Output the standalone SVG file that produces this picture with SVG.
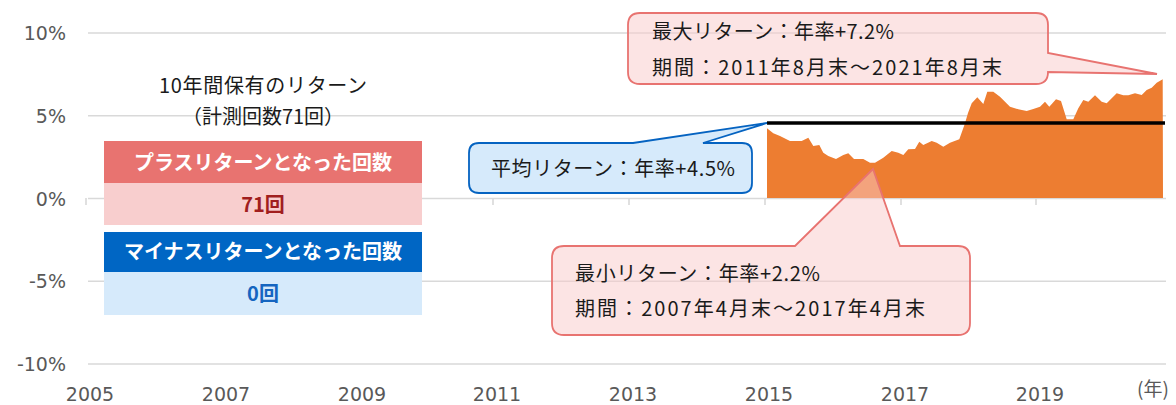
<svg xmlns="http://www.w3.org/2000/svg" width="1176" height="405" viewBox="0 0 1176 405">
<style>
.grid{stroke:#d9d9d9;stroke-width:1.6;fill:none}
.tick{stroke:#d9d9d9;stroke-width:1.6}
.ax{font-family:"DejaVu Sans","Noto Sans CJK JP",sans-serif;font-size:19px;fill:#595959}
.jp{font-family:"Noto Sans CJK JP","Noto Sans",sans-serif;font-size:20px;fill:#1a1a1a}
.hd{font-family:"Noto Sans CJK JP","Noto Sans",sans-serif;font-size:20px;font-weight:bold;text-anchor:middle}
.pink{fill:#f9c9c9;fill-opacity:0.5;stroke:#e87370;stroke-width:1.8}
.blue{fill:#d6eafb;stroke:#0563c1;stroke-width:1.8}
</style>
<rect width="1176" height="405" fill="#ffffff"/>
<g id="gridlines">
<line class="grid" x1="88" y1="33" x2="1166" y2="33"/>
<line class="grid" x1="88" y1="115.75" x2="1166" y2="115.75"/>
<line class="grid" x1="88" y1="198.5" x2="1166" y2="198.5"/>
<line class="grid" x1="88" y1="281.25" x2="1166" y2="281.25"/>
<line class="grid" x1="88" y1="364" x2="1166" y2="364"/>
<line class="tick" x1="86" y1="198" x2="86" y2="205"/>
<line class="tick" x1="222" y1="198" x2="222" y2="205"/>
<line class="tick" x1="358" y1="198" x2="358" y2="205"/>
<line class="tick" x1="493" y1="198" x2="493" y2="205"/>
<line class="tick" x1="629" y1="198" x2="629" y2="205"/>
<line class="tick" x1="765" y1="198" x2="765" y2="205"/>
<line class="tick" x1="901" y1="198" x2="901" y2="205"/>
<line class="tick" x1="1036" y1="198" x2="1036" y2="205"/>
</g>
<g id="y-axis-labels" class="ax" text-anchor="end">
<text x="66" y="40">10%</text>
<text x="66" y="122.5">5%</text>
<text x="66" y="205.5">0%</text>
<text x="66" y="288">-5%</text>
<text x="66" y="371">-10%</text>
</g>
<g id="x-axis-labels" class="ax" text-anchor="middle">
<text x="90" y="401">2005</text>
<text x="226" y="401">2007</text>
<text x="362" y="401">2009</text>
<text x="497" y="401">2011</text>
<text x="633" y="401">2013</text>
<text x="769" y="401">2015</text>
<text x="905" y="401">2017</text>
<text x="1040" y="401">2019</text>
<text x="1153" y="396" style="font-family:'Noto Sans CJK JP',sans-serif">(年)</text>
</g>
<g id="return-area">
<polygon fill="#ed7d31" points="767,198 767,128.3 773.3,133.3 780,136 790,141 801.7,141 808.3,137.7 813.3,146 819.3,145 823.3,152.7 828.3,156 836,159 843.3,155 848.3,153.3 854,159 863.3,159 870,162.7 875,162.7 883.3,157.7 891.7,151 898.3,152.7 903.3,155 908.3,149.3 915,149 919.3,141.7 923.3,145 931.7,141 936.7,142.7 943.3,146.7 950,142.7 959.3,139.3 965,123.3 968,113 971.7,103.3 977.3,97.3 983.3,104 987.3,91.7 993.3,91.7 1000,96.7 1010,106.7 1018.3,109.3 1026.7,111 1033.3,109 1040,106.7 1045,101.7 1049.3,106.7 1056,99.3 1061,101 1066.7,119.3 1073.3,119.3 1078.3,108.3 1083.3,100 1088.3,101.7 1095,95.3 1101.7,101.7 1106.7,103.3 1116.7,93.3 1123.3,95.3 1128.3,95.3 1135,93.3 1141.7,95 1146.7,90 1151.7,87.7 1156.7,82.7 1162.7,79.3 1163,198"/>
</g>
<g id="average-line">
<line x1="767" y1="123" x2="1165" y2="123" stroke="#000000" stroke-width="3.6"/>
</g>
<g id="summary-box">
<text class="jp" x="263" y="93" text-anchor="middle" textLength="208" lengthAdjust="spacing">10年間保有のリターン</text>
<text class="jp" x="263" y="124" text-anchor="middle">（計測回数71回）</text>
<rect x="104" y="141" width="318" height="42" fill="#e87370"/>
<text class="hd" x="263" y="169.5" fill="#ffffff">プラスリターンとなった回数</text>
<rect x="104" y="183" width="318" height="42" fill="#f8cece"/>
<text class="hd" x="263" y="211.5" fill="#a11e1e">71回</text>
<rect x="104" y="232" width="318" height="40" fill="#0066c4"/>
<text class="hd" x="263" y="259" fill="#ffffff">マイナスリターンとなった回数</text>
<rect x="104" y="272" width="318" height="43" fill="#d6eafb"/>
<text class="hd" x="263" y="300.5" fill="#1565c0">0回</text>
</g>
<g id="callout-max">
<path class="pink" d="M640,13 H1036 Q1048,13 1048,25 V53 L1157,74 L1048,72 Q1048,84 1036,84 H640 Q628,84 628,72 V25 Q628,13 640,13 Z"/>
<text class="jp" x="652" y="39" textLength="242" lengthAdjust="spacing">最大リターン：年率+7.2%</text>
<text class="jp" x="652" y="75" textLength="350" lengthAdjust="spacing">期間：2011年8月末～2021年8月末</text>
</g>
<g id="callout-average">
<path class="blue" d="M479,143 H633 L767,123 L703,143 H742 Q752,143 752,153 V183 Q752,193 742,193 H479 Q469,193 469,183 V153 Q469,143 479,143 Z"/>
<text class="jp" x="491" y="176" textLength="244" lengthAdjust="spacing">平均リターン：年率+4.5%</text>
</g>
<g id="callout-min">
<path class="pink" d="M564,246 H795 L873,169 L900,246 H958 Q970,246 970,258 V323 Q970,335 958,335 H564 Q552,335 552,323 V258 Q552,246 564,246 Z"/>
<text class="jp" x="575" y="281" textLength="245" lengthAdjust="spacing">最小リターン：年率+2.2%</text>
<text class="jp" x="575" y="316" textLength="350" lengthAdjust="spacing">期間：2007年4月末～2017年4月末</text>
</g>
</svg>
